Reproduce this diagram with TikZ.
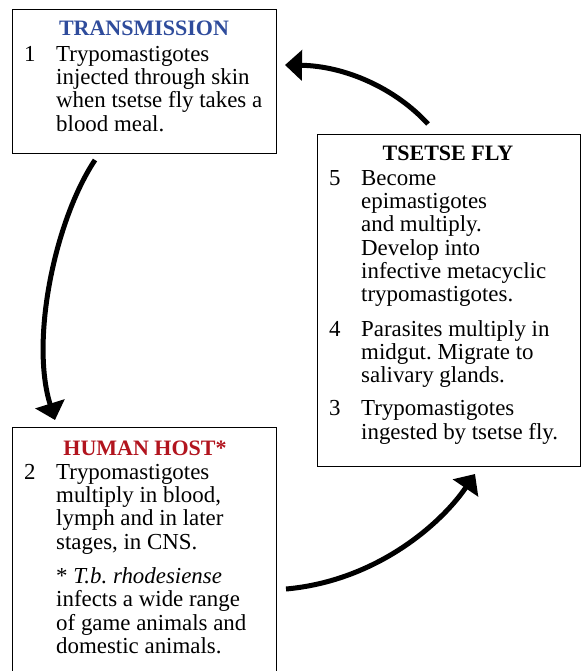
\documentclass[tikz,border=0pt]{standalone}
\usepackage{fontspec}
\setmainfont{Liberation Serif}
\usetikzlibrary{arrows.meta}
\definecolor{tblue}{RGB}{47,76,156}
\definecolor{tred}{RGB}{178,20,30}
\tikzset{
  box/.style={draw=black, line width=1.1pt, anchor=north west, inner sep=0pt},
  title/.style={anchor=base, inner sep=0pt, font=\fontsize{22}{24}\selectfont\bfseries},
  body/.style={anchor=north west, inner sep=0pt, font=\fontsize{22.9}{23.3}\selectfont},
  cyc/.style={line width=5pt, -{Triangle[length=17pt,width=30pt]}}
}
\newcommand{\nm}[1]{\makebox[32pt][l]{#1}}
\frenchspacing
\begin{document}
\begin{tikzpicture}[x=1pt,y=-1pt]
\useasboundingbox (0,0) rectangle (582,671);
\clip (0,0) rectangle (582,671);
\fill[white] (0,0) rectangle (582,671);
% boxes
\node[box, minimum width=264pt, minimum height=144pt] (trans) at (12,9) {};
\node[box, minimum width=263pt, minimum height=332pt] (fly) at (317,134) {};
\node[box, minimum width=264pt, minimum height=270pt] (host) at (12,427) {};
% titles
\node[title, text=tblue] (transT) at (144,35.5) {TRANSMISSION};
\node[title] (flyT) at (448,160.5) {TSETSE FLY};
\node[title, text=tred] (hostT) at (145,455) {HUMAN HOST*};
% bodies
\node[body] (transB) at (24,44.7) {\begin{tabular}{@{}l@{}l@{}}
\nm{1} & Trypomastigotes\\
 & injected through skin\\
 & when tsetse fly takes a\\
 & blood meal.
\end{tabular}};
\node[body] (flyB) at (329,168.7) {\begin{tabular}{@{}l@{}l@{}}
\nm{5} & Become\\
 & epimastigotes\\
 & and multiply.\\
 & Develop into\\
 & infective metacyclic\\
 & trypomastigotes.\\[11pt]
\nm{4} & Parasites multiply in\\
 & midgut. Migrate to\\
 & salivary glands.\\[10pt]
\nm{3} & Trypomastigotes\\
 & ingested by tsetse fly.
\end{tabular}};
\node[body] (hostB) at (24,462.7) {\begin{tabular}{@{}l@{}l@{}}
\nm{2} & Trypomastigotes\\
 & multiply in blood,\\
 & lymph and in later\\
 & stages, in CNS.\\[11pt]
 & * \textit{T.b. rhodesiense}\\
 & infects a wide range\\
 & of game animals and\\
 & domestic animals.
\end{tabular}};
% connector end points
\coordinate (a1s) at (428,124);
\coordinate (a1e) at (285,65);
\coordinate (a2s) at (95,160);
\coordinate (a2e) at (55,420);
\coordinate (a3s) at (286,589);
\coordinate (a3e) at (475,474);
\draw[cyc] (a1s) .. controls (395,88) and (345,66) .. (a1e);
\draw[cyc] (a2s) .. controls (55,220) and (30,340) .. (a2e);
\draw[cyc] (a3s) .. controls (376,581) and (441,524) .. (a3e);
\end{tikzpicture}
\end{document}
